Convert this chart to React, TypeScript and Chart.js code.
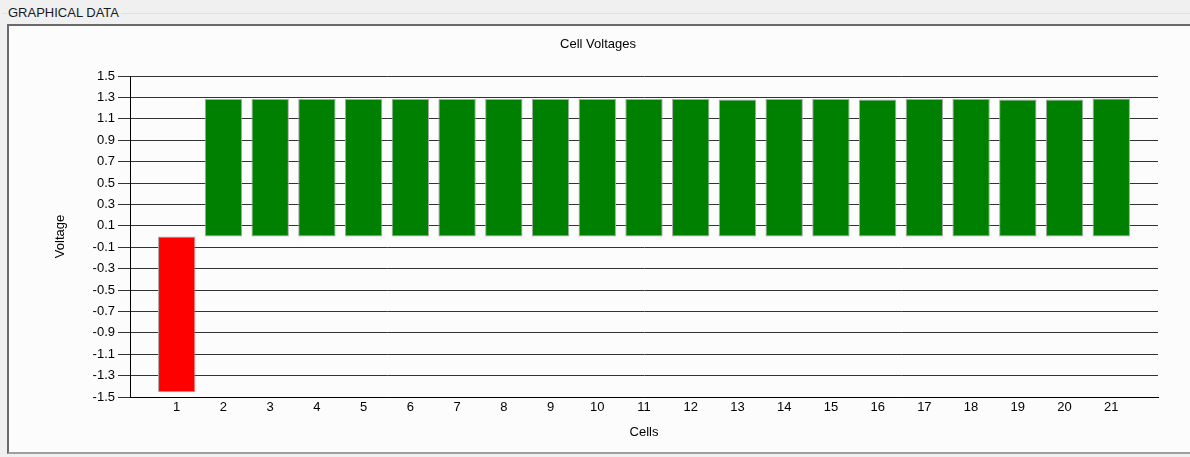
import React, { useEffect, useRef } from "react";
import { Chart, registerables } from "chart.js";

Chart.register(...registerables);

const groupTitle = "GRAPHICAL DATA";
const chartTitle = "Cell Voltages";
const xAxisTitle = "Cells";
const yAxisTitle = "Voltage";

const cells = ["1", "2", "3", "4", "5", "6", "7", "8", "9", "10", "11", "12", "13", "14", "15", "16", "17", "18", "19", "20", "21"];
const voltages = [-1.455, 1.285, 1.285, 1.285, 1.285, 1.285, 1.285, 1.285, 1.285, 1.285, 1.285, 1.285, 1.28, 1.285, 1.285, 1.28, 1.285, 1.285, 1.28, 1.28, 1.29];
const yTicks = [-1.5, -1.3, -1.1, -0.9, -0.7, -0.5, -0.3, -0.1, 0.1, 0.3, 0.5, 0.7, 0.9, 1.1, 1.3, 1.5];

const FONT = "'Liberation Sans', Arial, sans-serif";

export default function App() {
  const canvasRef = useRef<HTMLCanvasElement | null>(null);

  useEffect(() => {
    document.body.style.margin = "0";
    const canvas = canvasRef.current;
    if (!canvas) return;
    const labels = ["", ...cells, ""];
    const data = [null, ...voltages, null];
    const colors = data.map((v) => (v !== null && v < 0 ? "#ff0000" : "#008000"));
    const chart = new Chart(canvas, {
      type: "bar",
      data: {
        labels,
        datasets: [
          {
            data: data as any,
            backgroundColor: colors,
            borderColor: "#a8a8a8",
            borderWidth: 1,
            borderSkipped: false,
            categoryPercentage: 1,
            barPercentage: 0.8,
          },
        ],
      },
      options: {
        animation: false,
        responsive: false,
        devicePixelRatio: 1,
        layout: { padding: { left: 38, right: 32, top: 30, bottom: 17 } },
        plugins: {
          legend: { display: false },
          tooltip: { enabled: false },
          title: {
            display: true,
            text: chartTitle,
            color: "#000",
            font: { family: FONT, size: 13, weight: "normal" },
            padding: { top: 7, bottom: 23.4 },
          },
        },
        scales: {
          x: {
            offset: false,
            grid: { display: false, drawTicks: false },
            border: { display: true, color: "#000", width: 1 },
            ticks: {
              color: "#000",
              font: { family: FONT, size: 13 },
              padding: 3,
              maxRotation: 0,
              autoSkip: false,
            },
            title: {
              display: true,
              text: xAxisTitle,
              color: "#000",
              font: { family: FONT, size: 13 },
              padding: { top: 0, bottom: 0 },
            },
            afterFit: (scale: any) => {
              scale.height = 43;
            },
          },
          y: {
            min: -1.5,
            max: 1.5,
            afterBuildTicks: (scale: any) => {
              scale.ticks = yTicks.map((value) => ({ value }));
            },
            grid: { color: "#333", lineWidth: 1, tickLength: 12, drawTicks: true },
            border: { display: true, color: "#000", width: 1 },
            ticks: {
              color: "#000",
              font: { family: FONT, size: 13 },
              padding: 3,
              autoSkip: false,
              callback: (v: any) => Number(v).toFixed(1),
            },
            title: {
              display: true,
              text: yAxisTitle,
              color: "#000",
              font: { family: FONT, size: 13 },
              padding: { top: 15, bottom: 0 },
            },
            afterFit: (scale: any) => {
              scale.width = 92;
            },
          },
        },
      },
    });
    return () => chart.destroy();
  }, []);

  return (
    <div style={{ position: "fixed", left: 0, top: 0, width: 1190, height: 457, background: "#f0f0f0", overflow: "hidden" }}>
      <div style={{ position: "absolute", left: 2, top: 13, width: 1188, height: 1, background: "#dbe3ea" }} />
      <div
        style={{
          position: "absolute",
          left: 7,
          top: 3,
          padding: "0 2px 0 1px",
          background: "#f0f0f0",
          font: `13px ${FONT}`,
          color: "#1a1a1a",
          lineHeight: "20px",
        }}
      >
        {groupTitle}
      </div>
      <div
        style={{
          position: "absolute",
          left: 7,
          top: 24,
          width: 1190,
          height: 430,
          background: "#fcfcfc",
          borderTop: "2px solid #6a6a6a",
          borderLeft: "2px solid #6a6a6a",
          borderBottom: "2px solid #a0a0a0",
          boxSizing: "border-box",
        }}
      />
      <canvas ref={canvasRef} width={1190} height={457} style={{ position: "absolute", left: 0, top: 0, width: 1190, height: 457 }} />
    </div>
  );
}
